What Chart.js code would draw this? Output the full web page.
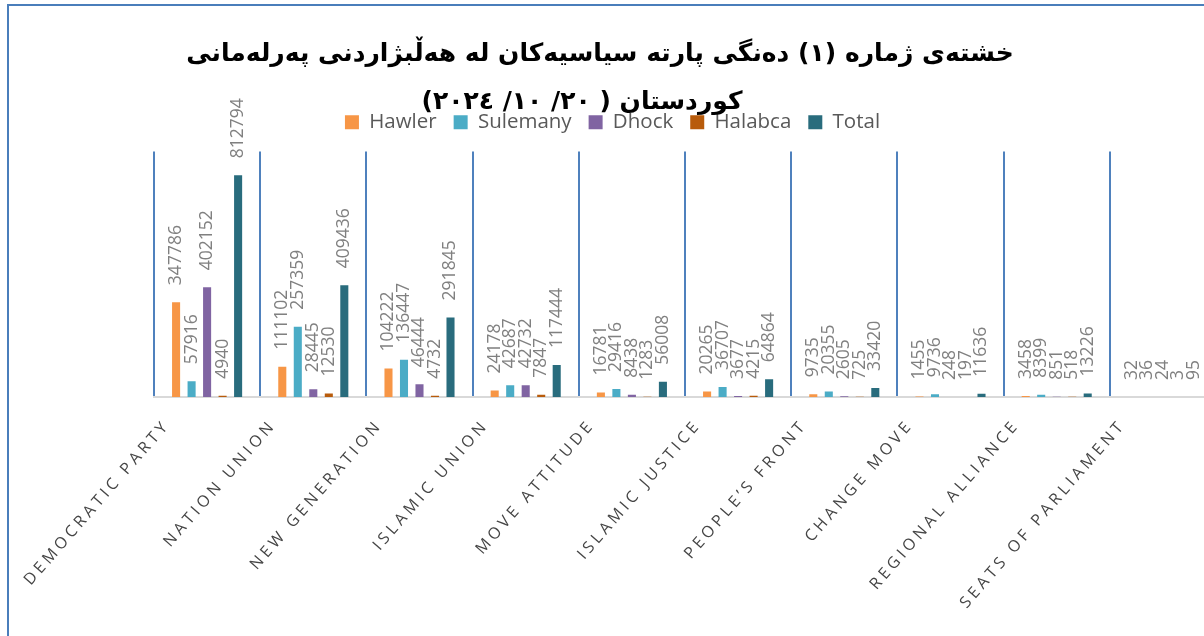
<!DOCTYPE html>
<html>
<head>
<meta charset="utf-8">
<script src="https://cdn.jsdelivr.net/npm/chart.js@4.4.1/dist/chart.umd.min.js"></script>
<style>
  html, body { margin: 0; padding: 0; background: #fff; overflow: hidden; }
  body { width: 1204px; height: 636px; position: relative; }
  #frame {
    position: absolute; left: 7px; top: 4px; width: 1300px; height: 700px;
    border-left: 2px solid #4a7ebb; border-top: 2px solid #4a7ebb;
  }
  #title {
    position: absolute; left: 0; top: 29px; width: 1200px;
    text-align: center; direction: rtl;
    font-family: "DejaVu Sans", sans-serif; font-weight: bold; font-size: 25px;
    line-height: 48px; color: #000;
  }
  #title .l2 { margin-right: 36px; }
  #wrap { position: absolute; left: 0; top: 0; width: 1211px; height: 640px; }
</style>
</head>
<body>
<div id="frame">
  <div id="wrap"><canvas id="chart"></canvas></div>
</div>
<div id="title">خشتەی ژمارە (١) دەنگی پارتە سیاسیەکان لە هەڵبژاردنی پەرلەمانی<br><span class="l2">کوردستان ( ٢٠/ ١٠/ ٢٠٢٤)</span></div>

<script>
const categories = ['DEMOCRATIC PARTY', 'NATION UNION', 'NEW GENERATION', 'ISLAMIC UNION', 'MOVE ATTITUDE',
  'ISLAMIC JUSTICE', 'PEOPLE\u2019S FRONT', 'CHANGE MOVE', 'REGIONAL ALLIANCE', 'SEATS OF PARLIAMENT'];

const hawler   = [347786, 111102, 104222, 24178, 16781, 20265, 9735, 1455, 3458, 32];
const sulemany = [57916, 257359, 136447, 42687, 29416, 36707, 20355, 9736, 8399, 36];
const dhock    = [402152, 28445, 46444, 42732, 8438, 3677, 2605, 248, 851, 24];
const halabca  = [4940, 12530, 4732, 7847, 1283, 4215, 725, 197, 518, 3];
const total    = [812794, 409436, 291845, 117444, 56008, 64864, 33420, 11636, 13226, 95];

const seriesNames = ['Hawler', 'Sulemany', 'Dhock', 'Halabca', 'Total'];
const seriesColors = ['#f79646', '#4bacc6', '#8064a2', '#b85b0b', '#296c7d'];
const seriesData = [hawler, sulemany, dhock, halabca, total];

// value labels drawn vertically above each bar, then letter spacing for the x labels
const valueLabels = {
  id: 'valueLabels',
  afterDatasetsDraw(chart) {
    const ctx = chart.ctx;
    ctx.save();
    ctx.font = '17.5px "Open Sans"';
    ctx.fillStyle = '#808080';
    ctx.textAlign = 'left';
    ctx.textBaseline = 'middle';
    chart.data.datasets.forEach((ds, i) => {
      chart.getDatasetMeta(i).data.forEach((bar, j) => {
        ctx.save();
        ctx.translate(bar.x, bar.y - 17);
        ctx.rotate(-Math.PI / 2);
        ctx.fillText(String(ds.data[j]), 0, 0);
        ctx.restore();
      });
    });
    ctx.restore();
    ctx.letterSpacing = '3.8px';
  },
  afterDraw(chart) {
    chart.ctx.letterSpacing = '0px';
  }
};

new Chart(document.getElementById('chart'), {
  type: 'bar',
  data: {
    labels: categories,
    datasets: seriesData.map((d, i) => ({
      label: seriesNames[i],
      data: d,
      backgroundColor: seriesColors[i],
      categoryPercentage: 0.73,
      barPercentage: 0.52
    }))
  },
  options: {
    responsive: true,
    maintainAspectRatio: false,
    animation: false,
    layout: { padding: { top: 89, right: 4, left: 0, bottom: 0 } },
    scales: {
      x: {
        grid: { color: '#4f81bd', lineWidth: 2, drawTicks: false, offset: true },
        border: { color: '#d9d9d9', width: 2 },
        ticks: {
          z: 1,
          autoSkip: false,
          maxRotation: 49,
          minRotation: 49,
          padding: 19,
          labelOffset: -40,
          color: '#454545',
          font: { family: 'Open Sans', size: 16 }
        },
        afterFit(scale) { scale.height = 249; }
      },
      y: {
        min: 0,
        max: 900000,
        grid: { display: false },
        border: { display: false },
        ticks: { display: false },
        afterFit(scale) { scale.width = 145; }
      }
    },
    plugins: {
      legend: {
        position: 'top',
        labels: {
          boxWidth: 14,
          boxHeight: 14,
          padding: 17,
          color: '#595959',
          font: { family: 'Open Sans', size: 20.5 }
        }
      },
      subtitle: {
        display: true,
        text: '',
        position: 'top',
        weight: 500,
        padding: 0,
        font: { size: 9, lineHeight: 1 }
      },
      tooltip: { enabled: false }
    }
  },
  plugins: [valueLabels]
});
</script>
</body>
</html>
